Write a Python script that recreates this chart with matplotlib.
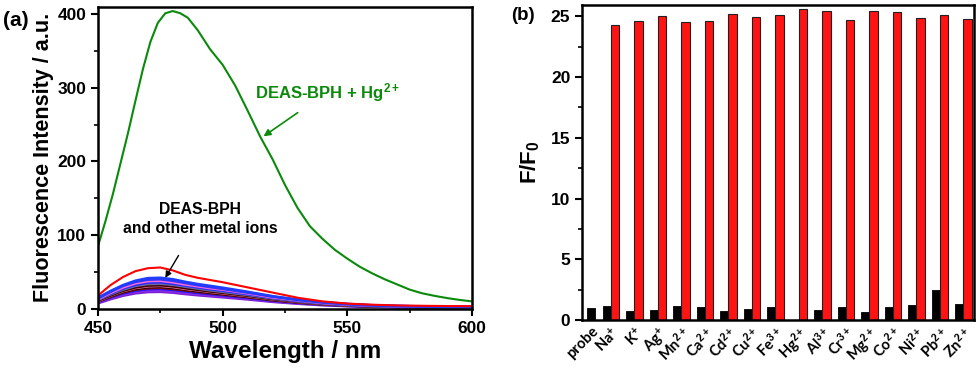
import matplotlib
matplotlib.use('Agg')
import matplotlib.pyplot as plt
from matplotlib.ticker import MultipleLocator
import numpy as np

plt.rcParams['font.family'] = ['Liberation Sans', 'DejaVu Sans']
plt.rcParams['font.weight'] = 'bold'
plt.rcParams['axes.labelweight'] = 'bold'
plt.rcParams['mathtext.fontset'] = 'custom'
plt.rcParams['mathtext.rm'] = 'Liberation Sans:bold'
plt.rcParams['mathtext.bf'] = 'Liberation Sans:bold'
plt.rcParams['mathtext.default'] = 'bf'

# ---------------- data: panel (a) ----------------
hg_wavelength = [450, 453, 456, 459, 462, 465, 468, 471, 474, 477, 480, 483, 486, 490,
                 495, 500, 505, 510, 515, 520, 525, 530, 535, 540, 545, 550, 555, 560,
                 565, 570, 575, 580, 585, 590, 595, 600]
hg_spectrum = [85, 119, 156, 197, 238, 282, 325, 362, 388, 401, 404, 401, 395, 378,
               352, 331, 303, 269, 234, 203, 168, 137, 112, 95, 80, 68, 57, 48,
               40, 33, 26, 21, 17.5, 14.5, 12, 10]

wavelength = [450, 455, 460, 465, 470, 475, 480, 485, 490, 495, 500,
              510, 520, 530, 540, 550, 560, 570, 580, 590, 600]

red_spectrum = [18, 32, 43, 51, 55, 56, 52, 46, 42, 39, 36,
                29, 22, 15, 10, 7, 5.5, 4.5, 4.0, 3.7, 3.5]

ion_spectrum_1 = [15, 24, 32, 38, 41.5, 42, 40, 36.5, 33.5, 31, 28.5, 23, 17, 12.5, 9, 6.5, 4.7, 3.8, 3.2, 2.9, 2.7]
ion_spectrum_2 = [14, 23, 31, 36.5, 39.5, 40, 38, 35, 32, 29.5, 27, 22, 16.5, 12, 8.5, 6.2, 4.5, 3.6, 3.0, 2.8, 2.6]
ion_spectrum_3 = [13, 21.5, 29, 34.5, 37.5, 38, 36, 33, 30.5, 28, 26, 21, 15.5, 11.5, 8, 5.8, 4.3, 3.4, 2.9, 2.7, 2.5]
ion_spectrum_4 = [12.5, 20.5, 27.5, 32.5, 35.5, 36, 34, 31.5, 29, 26.5, 24.5, 19.8, 14.8, 10.8, 7.6, 5.5, 4.0, 3.2, 2.7, 2.5, 2.3]
ion_spectrum_5 = [12, 19.5, 26, 31, 33.5, 34, 32.5, 30, 27.5, 25, 23, 18.7, 14, 10.2, 7.2, 5.2, 3.8, 3.1, 2.6, 2.4, 2.2]
ion_spectrum_6 = [11, 18, 24.5, 29, 31.5, 32, 30.5, 28, 25.8, 23.5, 21.7, 17.6, 13.1, 9.6, 6.8, 4.9, 3.6, 2.9, 2.5, 2.3, 2.1]
ion_spectrum_7 = [10.5, 17.5, 23.8, 28.2, 30.5, 31, 29.5, 27, 25, 22.8, 21, 17, 12.7, 9.3, 6.5, 4.7, 3.5, 2.8, 2.4, 2.2, 2.0]
ion_spectrum_8 = [10.5, 17, 23, 27.3, 29.5, 30, 28.5, 26.2, 24, 22, 20.3, 16.5, 12.3, 9, 6.3, 4.5, 3.3, 2.7, 2.3, 2.1, 1.9]
ion_spectrum_9 = [10, 16.3, 22, 26, 28, 28.5, 27, 25, 23, 21, 19.3, 15.7, 11.7, 8.5, 6, 4.3, 3.2, 2.6, 2.2, 2.0, 1.8]
ion_spectrum_10 = [9.5, 15.5, 20.8, 24.6, 26.6, 27, 25.7, 23.6, 21.7, 19.9, 18.3, 14.9, 11, 8.1, 5.7, 4.1, 3.0, 2.4, 2.1, 1.9, 1.7]
ion_spectrum_11 = [8.5, 14.2, 19.2, 22.8, 24.6, 25, 23.8, 21.8, 20, 18.4, 17, 13.8, 10.2, 7.5, 5.3, 3.8, 2.8, 2.3, 1.9, 1.8, 1.6]
ion_spectrum_12 = [7.5, 13, 17.7, 21, 22.7, 23, 21.9, 20, 18.4, 17, 15.6, 12.7, 9.4, 6.9, 4.9, 3.5, 2.6, 2.1, 1.8, 1.6, 1.5]

# ---------------- data: panel (b) ----------------
probe_label = 'probe'
probe_value = 1.0
ion_labels = ['Na$^{+}$', 'K$^{+}$', 'Ag$^{+}$', 'Mn$^{2+}$', 'Ca$^{2+}$', 'Cd$^{2+}$',
              'Cu$^{2+}$', 'Fe$^{3+}$', 'Hg$^{2+}$', 'Al$^{3+}$', 'Cr$^{3+}$', 'Mg$^{2+}$',
              'Co$^{2+}$', 'Ni$^{2+}$', 'Pb$^{2+}$', 'Zn$^{2+}$']
ion_alone = [1.15, 0.74, 0.82, 1.15, 1.1, 0.77, 0.9, 1.05, 0.0, 0.8, 1.07, 0.63,
             1.1, 1.25, 2.5, 1.3]
ion_with_hg = [24.3, 24.6, 25.0, 24.5, 24.6, 25.2, 24.9, 25.05, 25.55, 25.4, 24.7, 25.4,
               25.3, 24.86, 25.05, 24.8]

# ---------------- figure ----------------
fig = plt.figure(figsize=(9.8, 3.68), dpi=100)
ax1 = fig.add_axes([0.100, 0.161, 0.3816, 0.821])
ax2 = fig.add_axes([0.594, 0.130, 0.400, 0.856])

band = [
    (ion_spectrum_12, '#7b1fd6'),
    (ion_spectrum_11, '#8a2be2'),
    (ion_spectrum_10, '#1a1aff'),
    (ion_spectrum_9, '#8b0000'),
    (ion_spectrum_8, '#000000'),
    (ion_spectrum_7, '#ff6f9a'),
    (ion_spectrum_6, '#3b0000'),
    (ion_spectrum_5, '#6a6aa0'),
    (ion_spectrum_4, '#2a2aff'),
    (ion_spectrum_3, '#ff6fcf'),
    (ion_spectrum_2, '#3333ff'),
    (ion_spectrum_1, '#1f3cff'),
]
for vals, c in band:
    ax1.plot(wavelength, vals, color=c, lw=1.9)
ax1.plot(wavelength, red_spectrum, color='#ff0000', lw=1.5)
ax1.plot(hg_wavelength, hg_spectrum, color='#0a8a0a', lw=1.5)

ax1.set_xlim(450, 600)
ax1.set_ylim(0, 410)
ax1.xaxis.set_major_locator(MultipleLocator(50))
ax1.xaxis.set_minor_locator(MultipleLocator(25))
ax1.yaxis.set_major_locator(MultipleLocator(100))
ax1.yaxis.set_minor_locator(MultipleLocator(50))
ax1.set_xlabel('Wavelength / nm', fontsize=17.5, fontweight='bold', labelpad=3)
ax1.set_ylabel('Fluorescence Intensity / a.u.', fontsize=15.5, fontweight='bold', labelpad=2)

ax1.annotate('DEAS-BPH + Hg$^{2+}$', xy=(516.4, 234), xytext=(542, 294),
             ha='center', va='center', color='#0a8a0a', fontsize=12, fontweight='bold',
             arrowprops=dict(arrowstyle='-|>', color='#0a8a0a', lw=1.2, mutation_scale=10,
                             shrinkA=8, shrinkB=0))
ax1.annotate('DEAS-BPH\nand other metal ions', xy=(477, 42), xytext=(491, 122),
             ha='center', va='center', color='black', fontsize=11.3, fontweight='bold',
             linespacing=1.35,
             arrowprops=dict(arrowstyle='-|>', color='black', lw=1.0, mutation_scale=9,
                             shrinkA=14, shrinkB=0))

w = 0.35
ion_pos = np.arange(1, len(ion_labels) + 1)
probe_pos = ion_pos[0] - 0.85
ax2.bar([probe_pos], [probe_value], width=w, color='black', edgecolor='black', lw=0.6)
ax2.bar(ion_pos - w / 2, ion_alone, width=w, color='black', edgecolor='black', lw=0.6)
ax2.bar(ion_pos + w / 2, ion_with_hg, width=w, color='#ff1414', edgecolor='#202020', lw=0.8)
ax2.set_xlim(probe_pos - w / 2 - 0.2, ion_pos[-1] + w + 0.11)
ax2.set_ylim(0, 25.9)
ax2.yaxis.set_major_locator(MultipleLocator(5))
ax2.yaxis.set_minor_locator(MultipleLocator(2.5))
ax2.set_xticks(np.concatenate([[probe_pos], ion_pos]))
ax2.set_xticklabels([probe_label] + ion_labels, rotation=45, ha='right',
                    rotation_mode='anchor', fontsize=10.5, fontweight='bold', family='Lato')
ax2.set_ylabel('F/F$_{0}$', fontsize=16, fontweight='bold', labelpad=6)

for ax in (ax1, ax2):
    for s in ax.spines.values():
        s.set_linewidth(1.8)
    ax.tick_params(which='major', direction='out', length=5, width=1.5, labelsize=12.5)
    ax.tick_params(which='minor', direction='out', length=3, width=1.2)
    for lab in ax.get_yticklabels():
        lab.set_fontweight('bold')
for lab in ax1.get_xticklabels():
    lab.set_fontweight('bold')
ax2.tick_params(axis='x', which='both', length=0, pad=3, labelsize=10.5)

fig.text(0.003, 0.945, '(a)', fontsize=15, fontweight='bold', ha='left', va='center')
fig.text(0.522, 0.958, '(b)', fontsize=13.5, fontweight='bold', ha='left', va='center')

fig.savefig('out.png', dpi=100)
